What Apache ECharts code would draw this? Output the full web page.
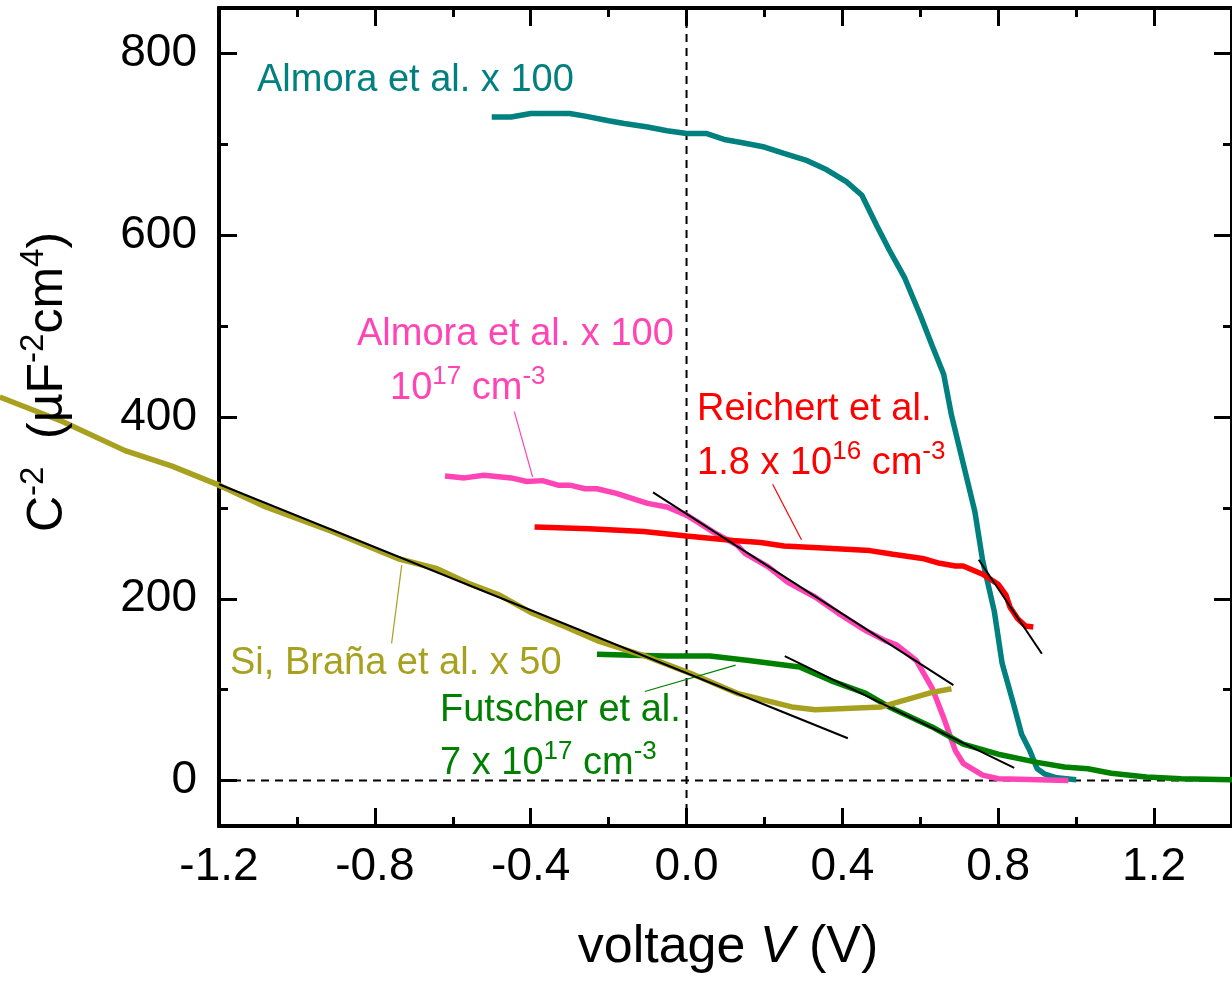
<!DOCTYPE html>
<html>
<head>
<meta charset="utf-8">
<script src="https://cdn.jsdelivr.net/npm/echarts@6/dist/echarts.min.js"></script>
<style>
html, body { margin: 0; padding: 0; background: #fff; }
#chart { width: 1232px; height: 981px; }
</style>
</head>
<body>
<div id="chart"></div>
<script>
// values: voltage V (V) and C^-2 (uF^-2 cm^4)
const almoraV = [-0.50, -0.45, -0.40, -0.30, -0.26, -0.20, -0.16, -0.10, -0.05, 0.00, 0.05, 0.10, 0.14, 0.20, 0.25, 0.31, 0.36, 0.41, 0.45, 0.49, 0.52, 0.56, 0.60, 0.63, 0.66, 0.68, 0.71, 0.74, 0.76, 0.79, 0.81, 0.84, 0.86, 0.88, 0.90, 0.92, 0.95, 1.00]
const almoraC = [730, 730, 734, 734, 731, 726, 723, 719, 715, 712, 712, 705, 702, 697, 690, 682, 672, 659, 644, 609, 584, 553, 512, 479, 447, 402, 349, 296, 242, 186, 129, 83, 51, 34, 13, 7, 3, 1]

const almora17V = [-0.62, -0.57, -0.52, -0.45, -0.41, -0.37, -0.33, -0.30, -0.26, -0.23, -0.18, -0.10, -0.05, 0.00, 0.03, 0.07, 0.13, 0.15, 0.21, 0.26, 0.33, 0.39, 0.46, 0.51, 0.54, 0.59, 0.63, 0.66, 0.69, 0.71, 0.76, 0.80, 0.98]
const almora17C = [335, 333, 336, 333, 329, 330, 325, 325, 321, 321, 316, 305, 301, 292, 284, 273, 259, 250, 235, 218, 202, 184, 165, 154, 149, 132, 102, 69, 33, 19, 6, 2, 0]

const reichertV = [-0.39, -0.25, -0.11, 0.00, 0.12, 0.19, 0.25, 0.35, 0.47, 0.53, 0.61, 0.65, 0.69, 0.71, 0.76, 0.80, 0.82, 0.83, 0.85, 0.87, 0.89]
const reichertC = [279, 277, 274, 269, 264, 262, 258, 256, 253, 249, 244, 239, 236, 236, 227, 216, 204, 191, 178, 170, 169]

const futscherV = [-0.23, -0.14, -0.05, 0.06, 0.16, 0.29, 0.37, 0.46, 0.52, 0.63, 0.71, 0.80, 0.90, 0.97, 1.03, 1.09, 1.18, 1.27, 1.40]
const futscherC = [139, 138, 137, 137, 132, 125, 110, 96, 81, 59, 40, 29, 20, 15, 13, 8, 4, 2, 1]

const siV = [-1.76, -1.60, -1.44, -1.32, -1.20, -1.08, -0.91, -0.74, -0.64, -0.56, -0.48, -0.40, -0.31, -0.23, -0.10, 0.01, 0.13, 0.27, 0.33, 0.50, 0.54, 0.63, 0.68]
const siC = [422, 395, 363, 346, 325, 301, 274, 244, 233, 217, 204, 185, 169, 154, 136, 118, 96, 81, 78, 81, 86, 97, 101]

// linear fits (end points)
const fitSi = [[-1.2, 326], [0.414, 46.5]]
const fitAlmora17 = [[-0.086, 317], [0.685, 105]]
const fitFutscher = [[0.252, 137], [0.841, 14]]
const fitReichert = [[0.750, 243], [0.912, 139.5]]

// thin pointer lines from labels to curves
const leadAlmora17 = [[-0.442, 406], [-0.395, 334]]
const leadReichert = [[0.221, 326], [0.295, 265]]
const leadSi = [[-0.731, 237], [-0.757, 151]]
const leadFutscher = [[-0.107, 98], [0.126, 127]]

const xMajor = [-1.2, -0.8, -0.4, 0, 0.4, 0.8, 1.2]
const xMinor = [-1.0, -0.6, -0.2, 0.2, 0.6, 1.0]
const yMajor = [0, 200, 400, 600, 800]
const yMinor = [100, 300, 500, 700]

const FONT = '"Liberation Sans", Arial, sans-serif'
const TEAL = '#00807f'
const PINK = '#ff45b5'
const RED = '#ff0000'
const GREEN = '#008000'
const OLIVE = '#a8a11f'

const zip = (xs, ys) => xs.map((x, i) => [x, ys[i]])

function curve(name, data, color, width, extra) {
  return Object.assign({
    name,
    type: 'line',
    data,
    showSymbol: false,
    symbol: 'none',
    lineStyle: { color, width },
    z: 3,
  }, extra || {})
}

function xAxisDef(position, ticks, len, labels) {
  return {
    type: 'value', min: -1.2, max: 1.4, position,
    axisLine: { show: true, onZero: false, lineStyle: { color: '#000', width: 4 } },
    axisTick: { show: true, inside: true, length: len, customValues: ticks, lineStyle: { color: '#000', width: 3 } },
    axisLabel: labels ? {
      show: true, customValues: ticks, margin: 18, color: '#000', fontSize: 46, fontFamily: FONT,
      formatter: v => v.toFixed(1),
    } : { show: false },
    splitLine: { show: false },
  }
}

function yAxisDef(position, ticks, len, labels) {
  return {
    type: 'value', min: -50, max: 850, position,
    axisLine: { show: true, onZero: false, lineStyle: { color: '#000', width: 4 } },
    axisTick: { show: true, inside: true, length: len, customValues: ticks, lineStyle: { color: '#000', width: 3 } },
    axisLabel: labels ? {
      show: true, customValues: ticks, margin: 22, color: '#000', fontSize: 46, fontFamily: FONT,
    } : { show: false },
    splitLine: { show: false },
  }
}

function rich(color, size) {
  return {
    n: { fontSize: size, fontFamily: FONT, fill: color, lineHeight: 44, verticalAlign: 'bottom' },
    s: { fontSize: Math.round(size * 0.68), fontFamily: FONT, fill: color, lineHeight: 30, verticalAlign: 'top' },
  }
}

function label(x, top, text, color) {
  return {
    type: 'text', left: x, top, z: 10,
    style: { text, rich: rich(color, 38), fill: color },
  }
}

const chart = echarts.init(document.getElementById('chart'))

chart.setOption({
  animation: false,
  backgroundColor: '#fff',
  grid: [
    { left: 219, top: 8, width: 1018, height: 818, containLabel: false },
    // strip left of the frame: the Si curve runs past the y axis in the figure
    { left: 0, top: 8, width: 219, height: 818, containLabel: false },
  ],
  xAxis: [
    xAxisDef('bottom', xMajor, 18, true),
    xAxisDef('bottom', xMinor, 9, false),
    xAxisDef('top', xMajor, 18, false),
    xAxisDef('top', xMinor, 9, false),
    { type: 'value', gridIndex: 1, min: -1.2 - 219 / 391.5, max: -1.2, show: false },
  ],
  yAxis: [
    yAxisDef('left', yMajor, 18, true),
    yAxisDef('left', yMinor, 9, false),
    yAxisDef('right', yMajor, 18, false),
    yAxisDef('right', yMinor, 9, false),
    { type: 'value', gridIndex: 1, min: -50, max: 850, show: false },
  ],
  series: [
    curve('zeroH', [[-1.2, 0], [1.4, 0]], '#000', 2, { lineStyle: { color: '#000', width: 2, type: [8, 6] }, z: 1 }),
    curve('zeroV', [[0, -50], [0, 850]], '#000', 2, { lineStyle: { color: '#000', width: 2, type: [8, 6] }, z: 1 }),
    curve('Almora et al. x 100', zip(almoraV, almoraC), TEAL, 5.5),
    curve('Almora 1e17', zip(almora17V, almora17C), PINK, 5.5),
    curve('Reichert et al.', zip(reichertV, reichertC), RED, 5.5),
    curve('Futscher et al.', zip(futscherV, futscherC), GREEN, 5.5),
    curve('Si, Braña et al. x 50', zip(siV, siC), OLIVE, 5.5),
    curve('Si left', zip(siV, siC), OLIVE, 5.5, { xAxisIndex: 4, yAxisIndex: 4 }),
    curve('fitSi', fitSi, '#000', 2, { z: 5 }),
    curve('fitAlmora17', fitAlmora17, '#000', 2, { z: 5 }),
    curve('fitFutscher', fitFutscher, '#000', 2, { z: 5 }),
    curve('fitReichert', fitReichert, '#000', 2, { z: 5 }),
    curve('leadAlmora17', leadAlmora17, PINK, 1.2),
    curve('leadReichert', leadReichert, RED, 1.2),
    curve('leadSi', leadSi, OLIVE, 1.2),
    curve('leadFutscher', leadFutscher, GREEN, 1.2),
  ],
  graphic: [
    label(257, 62, '{n|Almora et al. x 100}', TEAL),
    label(357, 316, '{n|Almora et al. x 100}', PINK),
    label(390, 364, '{n|10}{s|17}{n| cm}{s|-3}', PINK),
    label(697, 391, '{n|Reichert et al.}', RED),
    label(697, 439, '{n|1.8 x 10}{s|16}{n| cm}{s|-3}', RED),
    label(230, 645, '{n|Si, Braña et al. x 50}', OLIVE),
    label(440, 692, '{n|Futscher et al.}', GREEN),
    label(440, 739, '{n|7 x 10}{s|17}{n| cm}{s|-3}', GREEN),
    {
      type: 'text', x: 728, y: 948, z: 10,
      style: {
        text: '{n|voltage }{i|V}{n| (V)}', align: 'center', verticalAlign: 'middle',
        rich: {
          n: { fontSize: 52, fontFamily: FONT, fill: '#000' },
          i: { fontSize: 52, fontFamily: FONT, fontStyle: 'italic', fill: '#000' },
        },
      },
    },
    {
      type: 'text', x: 45, y: 382, rotation: Math.PI / 2, z: 10,
      style: {
        text: '{n|C}{s|-2}{n|  (µF}{s|-2}{n|cm}{s|4}{n|)}', align: 'center', verticalAlign: 'middle',
        rich: {
          n: { fontSize: 50, fontFamily: FONT, fill: '#000', lineHeight: 56, verticalAlign: 'bottom' },
          s: { fontSize: 33, fontFamily: FONT, fill: '#000', lineHeight: 36, verticalAlign: 'top' },
        },
      },
    },
  ],
})
</script>
</body>
</html>
